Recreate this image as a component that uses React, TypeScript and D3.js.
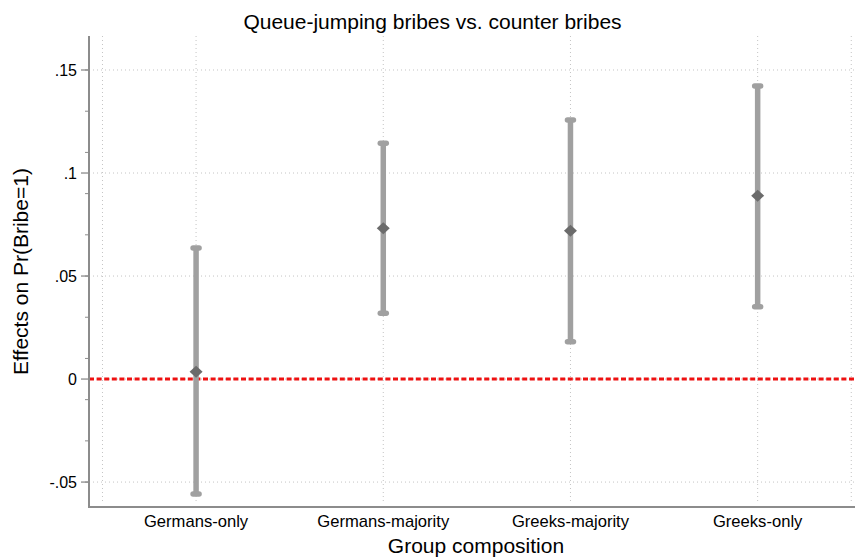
import React, { useEffect, useRef } from "react";
import * as d3 from "d3";

const W = 855;
const H = 557;
const margin = { top: 36, right: 0, bottom: 50, left: 89 };

// data
const groups = ["Germans-only", "Germans-majority", "Greeks-majority", "Greeks-only"];
const estimates = [0.0035, 0.0732, 0.072, 0.089];
const ciLow = [-0.0558, 0.0319, 0.0181, 0.0351];
const ciHigh = [0.0636, 0.1144, 0.1257, 0.1422];

const yTicks = [-0.05, 0, 0.05, 0.1, 0.15];
const yTickLabels = ["-.05", "0", ".05", ".1", ".15"];
const yMinorTicks = [-0.05, -0.03, -0.01, 0.01, 0.03, 0.05, 0.07, 0.09, 0.11, 0.13, 0.15];
const xGrid = [0.5, 1, 2, 3, 4, 4.5];

const FONT = "'Liberation Sans', Arial, sans-serif";
const AXIS = "#8c8c8c";
const BAR = "#a0a0a0";
const DOT = "#6b6b6b";

function renderChart(svgEl: SVGSVGElement) {
  const svg = d3.select(svgEl);
  svg.selectAll("*").remove();

  const x = d3.scaleLinear()
    .domain([0.428, 4.52])
    .range([margin.left, W - margin.right]);

  const y = d3.scaleLinear()
    .domain([-0.0621, 0.1665])
    .range([H - margin.bottom, margin.top]);

  const x0 = margin.left;
  const x1 = W - margin.right;
  const yb = y.range()[0];
  const yt = y.range()[1];

  // grid
  const grid = svg.append("g").attr("stroke", "#c4c4c4").attr("stroke-width", 1).attr("stroke-dasharray", "1,3");
  grid.selectAll(".hg").data(yTicks).enter().append("line")
    .attr("x1", x0 + 4).attr("x2", x1)
    .attr("y1", d => y(d)).attr("y2", d => y(d));
  grid.selectAll(".vg").data(xGrid).enter().append("line")
    .attr("x1", d => x(d)).attr("x2", d => x(d))
    .attr("y1", yt).attr("y2", yb - 4);

  // reference line at zero
  svg.append("line")
    .attr("x1", x0).attr("x2", x1)
    .attr("y1", y(0)).attr("y2", y(0))
    .attr("stroke", "#ee1111").attr("stroke-width", 3)
    .attr("stroke-dasharray", "5,2.6");

  // y axis
  const yAxis = svg.append("g").attr("transform", `translate(${x0},0)`);
  yAxis.append("line")
    .attr("x1", 0).attr("x2", 0).attr("y1", yt).attr("y2", yb)
    .attr("stroke", AXIS).attr("stroke-width", 2);
  yAxis.selectAll(".minor").data(yMinorTicks).enter().append("line")
    .attr("x1", -4).attr("x2", 0)
    .attr("y1", d => y(d)).attr("y2", d => y(d))
    .attr("stroke", AXIS).attr("stroke-width", 1);
  yAxis.selectAll(".major").data(yTicks).enter().append("line")
    .attr("x1", -8).attr("x2", 0)
    .attr("y1", d => y(d)).attr("y2", d => y(d))
    .attr("stroke", AXIS).attr("stroke-width", 1.3);
  yAxis.selectAll(".lab").data(yTicks).enter().append("text")
    .attr("x", -12)
    .attr("y", d => y(d))
    .attr("dy", "0.36em")
    .attr("text-anchor", "end")
    .style("font-family", FONT)
    .style("font-size", "16px")
    .attr("fill", "#000")
    .text((d, i) => yTickLabels[i]);

  // x axis
  svg.append("line")
    .attr("x1", x0 - 1).attr("x2", x1).attr("y1", yb).attr("y2", yb)
    .attr("stroke", AXIS).attr("stroke-width", 2);
  svg.selectAll(".xlab").data(groups).enter().append("text")
    .attr("x", (d, i) => x(i + 1))
    .attr("y", yb + 20)
    .attr("text-anchor", "middle")
    .style("font-family", FONT)
    .style("font-size", "16.6px")
    .attr("fill", "#000")
    .text(d => d);

  // error bars
  const bars = svg.append("g")
    .attr("stroke", BAR).attr("stroke-width", 5.5).attr("stroke-linecap", "round");
  bars.selectAll(".ci").data(groups).enter().append("line")
    .attr("x1", (d, i) => x(i + 1)).attr("x2", (d, i) => x(i + 1))
    .attr("y1", (d, i) => y(ciLow[i])).attr("y2", (d, i) => y(ciHigh[i]))
    .attr("stroke-linecap", "butt");
  const caps = groups.flatMap((g, i) => [{ i, v: ciLow[i] }, { i, v: ciHigh[i] }]);
  bars.selectAll(".cap").data(caps).enter().append("line")
    .attr("x1", d => x(d.i + 1) - 3).attr("x2", d => x(d.i + 1) + 3)
    .attr("y1", d => y(d.v)).attr("y2", d => y(d.v));

  // point estimates (diamonds)
  svg.selectAll(".pt").data(estimates).enter().append("path")
    .attr("d", (d, i) => {
      const cx = x(i + 1), cy = y(d);
      return `M${cx - 6.5},${cy}L${cx},${cy - 6}L${cx + 6.5},${cy}L${cx},${cy + 6}Z`;
    })
    .attr("fill", DOT);

  // titles
  svg.append("text")
    .attr("x", W / 2 + 5)
    .attr("y", 29)
    .attr("text-anchor", "middle")
    .style("font-family", FONT)
    .style("font-size", "21px")
    .attr("fill", "#000")
    .text("Queue-jumping bribes vs. counter bribes");

  svg.append("text")
    .attr("transform", `translate(28,${(yt + yb) / 2}) rotate(-90)`)
    .attr("text-anchor", "middle")
    .style("font-family", FONT)
    .style("font-size", "21px")
    .attr("fill", "#000")
    .text("Effects on Pr(Bribe=1)");

  svg.append("text")
    .attr("x", (x0 + x1) / 2 + 4)
    .attr("y", 553)
    .attr("text-anchor", "middle")
    .style("font-family", FONT)
    .style("font-size", "21px")
    .attr("fill", "#000")
    .text("Group composition");
}

export default function App() {
  const svgRef = useRef<SVGSVGElement>(null);

  useEffect(() => {
    if (svgRef.current) renderChart(svgRef.current);
  }, []);

  return (
    <svg
      ref={svgRef}
      width={W}
      height={H}
      style={{ position: "absolute", left: 0, top: 0, background: "#fff" }}
    />
  );
}
